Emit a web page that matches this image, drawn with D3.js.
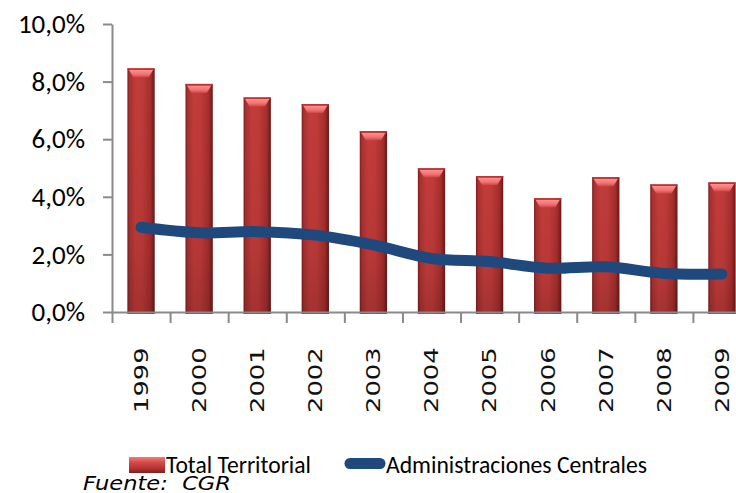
<!DOCTYPE html>
<html>
<head>
<meta charset="utf-8">
<script src="https://cdn.jsdelivr.net/npm/d3@7"></script>
<style>
  html, body { margin: 0; padding: 0; background: #fff; }
  svg { display: block; }
</style>
</head>
<body>
<svg class="chart" width="736" height="493"></svg>
<script>
var years = ['1999','2000','2001','2002','2003','2004','2005','2006','2007','2008','2009'];
var totalTerritorial = [8.46, 7.92, 7.45, 7.22, 6.28, 4.99, 4.72, 3.95, 4.68, 4.43, 4.50];
var adminCentrales = [2.94, 2.75, 2.79, 2.67, 2.33, 1.86, 1.75, 1.52, 1.57, 1.34, 1.32];
var yTicks = [0, 2, 4, 6, 8, 10];
var seriesNames = ['Total Territorial', 'Administraciones Centrales'];
var source = 'Fuente:  CGR';

var axisColor = '#8a8a8a',
	lineColor = '#1f497d';

var plotLeft = 112, plotRight = 751, plotTop = 24, plotBottom = 312;

var chart = d3.select('.chart');

// gradients for the glossy bars
var defs = chart.append('defs');
var g1 = defs.append('linearGradient').attr('id','barGrad')
	.attr('x1','0').attr('x2','1').attr('y1','0').attr('y2','0');
[['0%','#7e1e1e'],['8%','#a93131'],['30%','#c23c3a'],['55%','#c03b39'],['85%','#a52e2d'],['100%','#6a1818']]
	.forEach(function(s){ g1.append('stop').attr('offset',s[0]).attr('stop-color',s[1]); });
var g2 = defs.append('linearGradient').attr('id','capGrad')
	.attr('x1','0').attr('x2','0').attr('y1','0').attr('y2','1');
[['0%','#ff9090'],['60%','#f07270'],['100%','#cc4846']]
	.forEach(function(s){ g2.append('stop').attr('offset',s[0]).attr('stop-color',s[1]); });
var g3 = defs.append('linearGradient').attr('id','shadeGrad')
	.attr('x1','0').attr('x2','0').attr('y1','0').attr('y2','1');
[['0%','#000','0'],['70%','#000','0.06'],['100%','#000','0.16']]
	.forEach(function(s){ g3.append('stop').attr('offset',s[0]).attr('stop-color',s[1]).attr('stop-opacity',s[2]); });
var g4 = defs.append('linearGradient').attr('id','legGrad')
	.attr('x1','0').attr('x2','0').attr('y1','0').attr('y2','1');
[['0%','#f47a78'],['35%','#d44a48'],['70%','#b53433'],['100%','#7d1f1f']]
	.forEach(function(s){ g4.append('stop').attr('offset',s[0]).attr('stop-color',s[1]); });

var x = d3.scaleBand().domain(years).range([plotLeft, plotRight]).paddingInner(0.53).paddingOuter(0.265);
var xb = d3.scaleLinear().domain([0, years.length]).range([plotLeft, plotRight]);
var y = d3.scaleLinear().domain([0, 10]).range([plotBottom, plotTop]);

// y axis
var yAxis = d3.axisLeft(y).tickValues(yTicks).tickSize(9).tickSizeOuter(0).tickPadding(18)
	.tickFormat(function(d){ return d.toFixed(1).replace('.', ',') + '%'; });
var gy = chart.append('g').attr('transform','translate(' + plotLeft + ',0)').call(yAxis);
gy.selectAll('path, line').attr('stroke', axisColor).attr('stroke-width', 2);
gy.selectAll('text')
	.attr('fill','#000')
	.style('font-family','Carlito, Calibri, "Liberation Sans Narrow", sans-serif')
	.style('font-size','27px');

// bars
var bars = chart.selectAll('.bar')
	.data(years.map(function(d, i){ return {year: d, value: totalTerritorial[i]}; }))
	.enter().append('g').attr('class','bar');
bars.append('rect')
	.attr('x', function(d){ return x(d.year); })
	.attr('y', function(d){ return y(d.value); })
	.attr('width', x.bandwidth())
	.attr('height', function(d){ return plotBottom + 2 - y(d.value); })
	.attr('fill','url(#barGrad)');
bars.append('rect')
	.attr('x', function(d){ return x(d.year); })
	.attr('y', function(d){ return y(d.value); })
	.attr('width', x.bandwidth())
	.attr('height', function(d){ return plotBottom + 2 - y(d.value); })
	.attr('fill','url(#shadeGrad)');
bars.append('path')
	.attr('fill','url(#capGrad)')
	.attr('d', function(d){
		var x0 = x(d.year), w = x.bandwidth(), t = y(d.value);
		return 'M' + (x0 + 1.5) + ',' + (t + 1.5) + 'L' + (x0 + w - 1.5) + ',' + (t + 1.5) +
			'L' + (x0 + w - 6) + ',' + (t + 9) + 'L' + (x0 + 6) + ',' + (t + 9) + 'Z';
	});
bars.append('rect')
	.attr('x', function(d){ return x(d.year); })
	.attr('y', function(d){ return y(d.value); })
	.attr('width', x.bandwidth())
	.attr('height', 1.5)
	.attr('fill','#b83634');

// x axis line + ticks between categories
var xAxis = d3.axisBottom(xb).tickValues(d3.range(years.length + 1)).tickSize(11).tickSizeOuter(0).tickFormat('');
var gx = chart.append('g').attr('transform','translate(0,' + plotBottom + ')').call(xAxis);
gx.selectAll('path, line').attr('stroke', axisColor).attr('stroke-width', 2);

// rotated year labels
var xLab = d3.axisBottom(x).tickSize(0);
var gl = chart.append('g').attr('transform','translate(0,' + plotBottom + ')').call(xLab);
gl.select('.domain').remove();
gl.selectAll('text')
	.attr('x', 0).attr('y', 0).attr('dy','0.36em')
	.attr('text-anchor','start')
	.attr('transform','translate(0,101) rotate(-90) scale(1.36,1)')
	.attr('fill','#111')
	.style('font-family','"DejaVu Sans", Verdana, sans-serif')
	.style('font-size','19px');

// line
var line = d3.line()
	.x(function(d, i){ return x(years[i]) + x.bandwidth() / 2; })
	.y(function(d){ return y(d); })
	.curve(d3.curveCatmullRom.alpha(0.5));
chart.append('path')
	.datum(adminCentrales)
	.attr('d', line)
	.attr('fill','none')
	.attr('stroke', lineColor)
	.attr('stroke-width', 11)
	.attr('stroke-linecap','round')
	.attr('stroke-linejoin','round');

// legend
var legend = chart.append('g');
legend.append('rect').attr('x',129).attr('y',457).attr('width',36).attr('height',16).attr('fill','url(#legGrad)');
legend.append('line').attr('x1',350).attr('x2',380).attr('y1',463.5).attr('y2',463.5)
	.attr('stroke', lineColor).attr('stroke-width', 11).attr('stroke-linecap','round');
legend.append('text').attr('x',166).attr('y',473)
	.attr('textLength',145).attr('lengthAdjust','spacingAndGlyphs')
	.style('font-family','Carlito, Calibri, "Liberation Sans Narrow", sans-serif').style('font-size','24px')
	.text(seriesNames[0]);
legend.append('text').attr('x',386).attr('y',473)
	.attr('textLength',261).attr('lengthAdjust','spacingAndGlyphs')
	.style('font-family','Carlito, Calibri, "Liberation Sans Narrow", sans-serif').style('font-size','24px')
	.text(seriesNames[1]);

chart.append('text').attr('x',83).attr('y',490)
	.attr('textLength',148).attr('lengthAdjust','spacingAndGlyphs')
	.style('font-family','"DejaVu Sans", Verdana, sans-serif').style('font-style','italic').style('font-size','20px')
	.style('white-space','pre')
	.text(source);
</script>
</body>
</html>
